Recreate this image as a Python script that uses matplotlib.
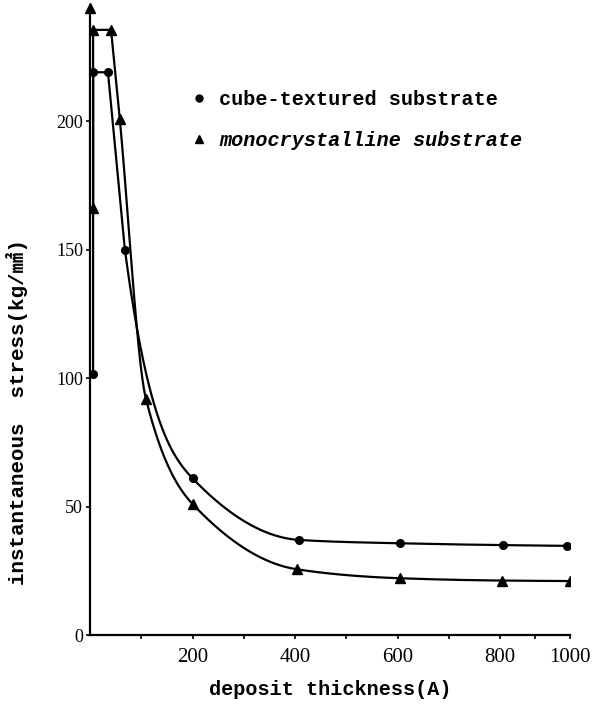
import numpy as np
from matplotlib import pyplot as plt

# thickness (A) and stress (kg/mm2)
cube_x = [6, 6, 35, 68, 200, 408, 604, 808, 990]
cube_y = [101.5, 219, 219, 150, 61, 37, 35.7, 35, 34.7]
mono_x = [6, 6, 41, 58, 109, 200, 403, 604, 806, 1000]
mono_y = [166, 235.5, 235.5, 201, 92, 51, 25.6, 22.1, 21.2, 21]

x_ticks = [200, 400, 600, 800, 1000]
x_minor = [100, 300, 500, 700, 900]
y_ticks = [0, 50, 100, 150, 200]
labels = ['cube-textured substrate', 'monocrystalline substrate']

# the original axis is squeezed past 800
K = 0.683


def fwd(x):
    x = np.asarray(x, float)
    return np.where(x <= 800, x, 800 + (x - 800) * K)


def inv(u):
    u = np.asarray(u, float)
    return np.where(u <= 800, u, 800 + (u - 800) / K)


def pchip(x, y, m0=None, n=200):
    x = np.asarray(x, float)
    y = np.asarray(y, float)
    h = np.diff(x)
    d = np.diff(y) / h
    m = np.zeros_like(y)
    for k in range(1, len(x) - 1):
        if d[k - 1] * d[k] > 0:
            w1 = 2 * h[k] + h[k - 1]
            w2 = h[k] + 2 * h[k - 1]
            m[k] = (w1 + w2) / (w1 / d[k - 1] + w2 / d[k])
    m[0] = d[0] if m0 is None else m0
    m[-1] = d[-1]
    xs, ys = [], []
    for k in range(len(h)):
        t = np.linspace(0, 1, n)
        h00 = 2 * t**3 - 3 * t**2 + 1
        h10 = t**3 - 2 * t**2 + t
        h01 = -2 * t**3 + 3 * t**2
        h11 = t**3 - t**2
        xs.append(x[k] + t * h[k])
        ys.append(h00 * y[k] + h10 * h[k] * m[k] + h01 * y[k + 1] + h11 * h[k] * m[k + 1])
    return np.concatenate(xs), np.concatenate(ys)


def draw_curve(ax, xv, yv, split, marker, ms, m0=None):
    # rise, plateau and first drop are straight, the tail is smooth
    ax.plot(xv[:split + 1], yv[:split + 1], color='black', lw=1.6)
    sx, sy = pchip(xv[split:], yv[split:], m0)
    ax.plot(sx, sy, color='black', lw=1.6)
    ax.plot(xv, yv, linestyle='none', marker=marker, ms=ms, color='black')


def main():
    fig = plt.figure(figsize=(5.95, 7.10), dpi=100)
    ax = fig.add_axes([0.1513, 0.1056, 0.8067, 0.8831])
    ax.set_xscale('function', functions=(fwd, inv))

    draw_curve(ax, cube_x, cube_y, 3, 'o', 5.5, m0=-1.5)
    draw_curve(ax, mono_x, mono_y, 3, '^', 7)

    ax.set_xlim(0, 1000)
    ax.set_ylim(0, 244)
    ax.spines['top'].set_visible(False)
    ax.spines['right'].set_visible(False)
    ax.spines['left'].set_linewidth(1.6)
    ax.spines['bottom'].set_linewidth(1.6)
    ax.plot([0], [1], marker='^', ms=7, color='black', transform=ax.transAxes, clip_on=False)

    ax.set_xticks(x_ticks)
    ax.set_xticks(x_minor, minor=True)
    ax.set_yticks(y_ticks)
    ax.tick_params(axis='x', which='both', direction='out', length=3, width=1.2, pad=6)
    ax.tick_params(axis='y', direction='out', length=3, width=1.2, pad=2)
    for t in ax.get_xticklabels():
        t.set_fontfamily('Liberation Serif')
        t.set_fontsize(15)
    for t in ax.get_yticklabels():
        t.set_fontfamily('Liberation Serif')
        t.set_fontsize(13)

    ax.set_xlabel('deposit thickness(A)', fontfamily='Liberation Mono',
                  fontweight='bold', fontsize=14.5, labelpad=10)
    ax.set_ylabel('instantaneous  stress(kg/㎟)', fontfamily=['Liberation Mono', 'Noto Sans CJK SC'],
                  fontweight='bold', fontsize=15)
    ax.yaxis.set_label_coords(-0.13, 0.355)

    h1 = plt.Line2D([], [], linestyle='none', marker='o', ms=5, color='black')
    h2 = plt.Line2D([], [], linestyle='none', marker='^', ms=6, color='black')
    leg = ax.legend([h1, h2], labels, loc='upper left', bbox_to_anchor=(0.19, 0.885),
                    frameon=False, handlelength=0.8, handletextpad=0.6, labelspacing=1.1,
                    borderpad=0, prop={'family': 'Liberation Mono', 'weight': 'bold', 'size': 14.5})
    leg.get_texts()[1].set_style('italic')

    fig.savefig('out.png', dpi=100)


if __name__ == "__main__":
    main()
